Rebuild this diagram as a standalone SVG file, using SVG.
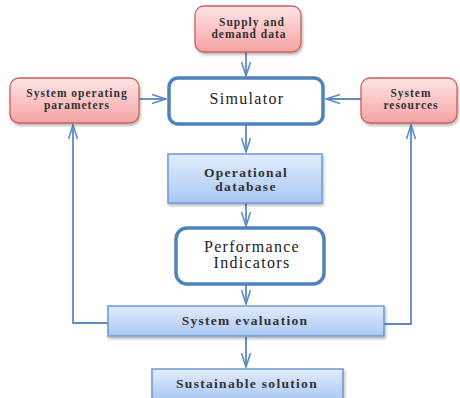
<svg xmlns="http://www.w3.org/2000/svg" width="460" height="398" viewBox="0 0 460 398">
<defs>
<linearGradient id="pink" x1="0" y1="0" x2="0" y2="1">
<stop offset="0" stop-color="#ffe6e6"/>
<stop offset="1" stop-color="#f4a2a2"/>
</linearGradient>
<linearGradient id="blue" x1="0" y1="0" x2="0" y2="1">
<stop offset="0" stop-color="#e2edfc"/>
<stop offset="1" stop-color="#a9c7f3"/>
</linearGradient>
<filter id="sh" x="-10%" y="-10%" width="130%" height="140%">
<feDropShadow dx="1" dy="2" stdDeviation="1.5" flood-color="#000" flood-opacity="0.3"/>
</filter>
<marker id="arr" viewBox="0 0 16 10" refX="15" refY="5" markerWidth="16" markerHeight="10" markerUnits="userSpaceOnUse" orient="auto">
<path d="M1,0.5 L15,5 L1,9.5" fill="none" stroke="#5b8bc8" stroke-width="1.6"/>
</marker>
<style>
.pk{fill:url(#pink);stroke:#c9605d;stroke-width:1.3;filter:url(#sh)}
.bl{fill:url(#blue);stroke:#6d99d6;stroke-width:1.5;filter:url(#sh)}
.wt{fill:#fff;stroke:#4f81bd;stroke-width:3.5}
.c{fill:none;stroke:#5b8bc8;stroke-width:1.8;marker-end:url(#arr)}
.s{font-family:"Liberation Serif","DejaVu Serif",serif;font-weight:bold;font-size:11.5px;fill:#333;text-anchor:middle;letter-spacing:1px}
.m{font-family:"Liberation Serif","DejaVu Serif",serif;font-weight:bold;font-size:13.5px;fill:#333;text-anchor:middle;letter-spacing:1.3px}
.l{font-family:"Liberation Serif","DejaVu Serif",serif;font-size:16px;fill:#222;text-anchor:middle;letter-spacing:1.3px}
</style>
</defs>
<g id="connectors">
<path class="c" d="M246,52 V76"/>
<path class="c" d="M139,99 H166"/>
<path class="c" d="M361,99 H326"/>
<path class="c" d="M246,125 V152"/>
<path class="c" d="M246,203 V226"/>
<path class="c" d="M246,285 V304"/>
<path class="c" d="M246,337 V367"/>
<path class="c" d="M108,323 H73 V125"/>
<path class="c" d="M384,324 H411 V125"/>
</g>
<g id="supply">
<rect class="pk" x="195" y="6" width="106" height="46" rx="9"/>
<text class="s" x="252" y="26">Supply and</text>
<text class="s" x="249" y="38">demand data</text>
</g>
<g id="params">
<rect class="pk" x="10" y="78" width="129" height="45" rx="9"/>
<text class="s" x="77" y="97">System operating</text>
<text class="s" x="77" y="109">parameters</text>
</g>
<g id="simulator">
<rect class="wt" x="169" y="78" width="154" height="46" rx="9"/>
<text class="l" x="247" y="104">Simulator</text>
</g>
<g id="resources">
<rect class="pk" x="361" y="78" width="96" height="45" rx="9"/>
<text class="s" x="411" y="97">System</text>
<text class="s" x="411" y="109">resources</text>
</g>
<g id="database">
<rect class="bl" x="168" y="154" width="154" height="49"/>
<text class="m" x="246" y="177">Operational</text>
<text class="m" x="246" y="191">database</text>
</g>
<g id="performance">
<rect class="wt" x="176" y="228" width="148" height="56" rx="11"/>
<text class="l" x="252" y="252">Performance</text>
<text class="l" x="252" y="268">Indicators</text>
</g>
<g id="evaluation">
<rect class="bl" x="108" y="306" width="276" height="30"/>
<text class="m" x="245" y="325">System evaluation</text>
</g>
<g id="solution">
<rect class="bl" x="152" y="369" width="191" height="32"/>
<text class="m" x="247" y="388">Sustainable solution</text>
</g>
</svg>
